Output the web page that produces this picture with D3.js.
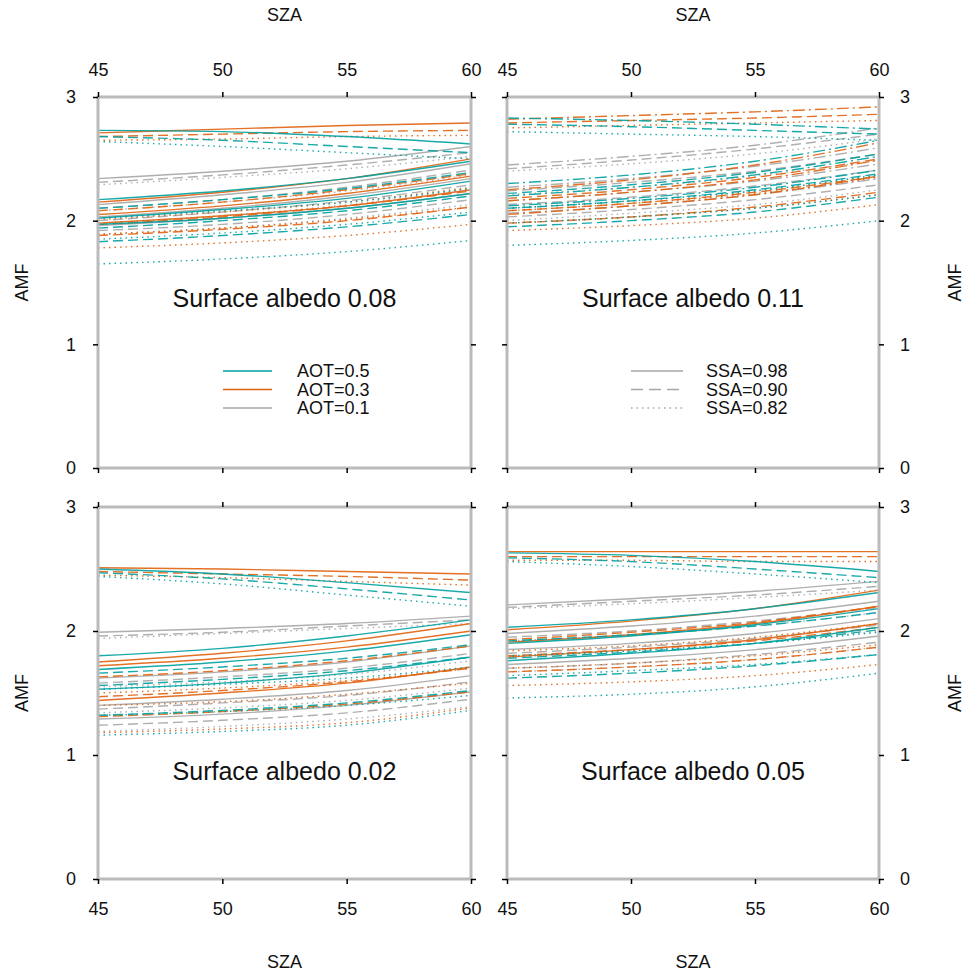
<!DOCTYPE html>
<html lang="en">
<head>
<meta charset="UTF-8">
<title>AMF vs SZA</title>
<script src="https://d3js.org/d3.v7.min.js"></script>
<style>
  body {margin: 0; background: #fff}
  text {font-family: 'Liberation Sans', Arial, sans-serif; fill: #111}
  .tick text {font-size: 18px}
  .title {font-size: 18px}
  .panel-label {font-size: 25px}
  .legend text {font-size: 18px}
</style>
</head>
<body>
<script>
// x positions sampled for each curve
const szaValues = [45, 50, 55, 60];
const szaTicks  = [45, 50, 55, 60];
const amfTicks  = [0, 1, 2, 3];
const aotLevels = ["AOT=0.5", "AOT=0.3", "AOT=0.1"];
const ssaLevels = ["SSA=0.98", "SSA=0.90", "SSA=0.82"];
const albedoLabels = ["Surface albedo 0.08", "Surface albedo 0.11", "Surface albedo 0.02", "Surface albedo 0.05"];

// each row: [aot index, ssa index, AMF at SZA 45, 50, 55, 60]
const amfAlb008 = [
  [0,0,2.73,2.72,2.68,2.62],[0,1,2.68,2.65,2.60,2.55],[0,2,2.64,2.60,2.55,2.50],
  [1,0,2.71,2.74,2.77,2.79],[1,1,2.68,2.70,2.72,2.73],[1,2,2.65,2.66,2.68,2.69],
  [2,0,2.34,2.40,2.48,2.60],[2,1,2.31,2.37,2.45,2.55],[2,2,2.29,2.35,2.42,2.52],
  [0,0,2.17,2.24,2.34,2.48],[0,1,2.10,2.17,2.26,2.39],[0,2,2.02,2.08,2.15,2.26],
  [1,0,2.15,2.23,2.34,2.50],[1,1,2.08,2.15,2.25,2.38],[1,2,2.01,2.07,2.15,2.27],
  [2,0,2.13,2.21,2.31,2.46],[2,1,2.10,2.17,2.27,2.41],[2,2,2.08,2.15,2.24,2.37],
  [0,0,2.02,2.09,2.18,2.32],[0,1,1.94,2.00,2.08,2.20],[0,2,1.85,1.90,1.97,2.07],
  [1,0,2.05,2.12,2.22,2.36],[1,1,1.97,2.03,2.12,2.24],[1,2,1.89,1.94,2.01,2.11],
  [2,0,2.03,2.10,2.20,2.34],[2,1,2.00,2.07,2.16,2.29],[2,2,1.98,2.04,2.13,2.26],
  [0,0,1.97,2.02,2.10,2.22],[0,1,1.83,1.88,1.95,2.05],[0,2,1.65,1.69,1.75,1.84],
  [1,0,1.98,2.04,2.12,2.25],[1,1,1.88,1.93,2.00,2.11],[1,2,1.78,1.82,1.88,1.97],
  [2,0,1.96,2.02,2.10,2.22],[2,1,1.92,1.97,2.05,2.17],[2,2,1.89,1.94,2.02,2.13]
];
const amfAlb011 = [
  [0,0,2.83,2.81,2.78,2.74],[0,1,2.78,2.76,2.73,2.70],[0,2,2.72,2.70,2.68,2.65],
  [1,0,2.82,2.85,2.88,2.92],[1,1,2.79,2.81,2.83,2.86],[1,2,2.75,2.77,2.79,2.81],
  [2,0,2.45,2.52,2.61,2.75],[2,1,2.42,2.49,2.58,2.70],[2,2,2.40,2.46,2.54,2.66],
  [0,0,2.30,2.37,2.48,2.65],[0,1,2.22,2.29,2.39,2.54],[0,2,2.10,2.16,2.24,2.37],
  [1,0,2.25,2.33,2.45,2.63],[1,1,2.18,2.25,2.35,2.50],[1,2,2.08,2.14,2.22,2.35],
  [2,0,2.27,2.34,2.44,2.59],[2,1,2.24,2.31,2.40,2.54],[2,2,2.21,2.27,2.36,2.49],
  [0,0,2.20,2.27,2.37,2.52],[0,1,2.10,2.16,2.25,2.38],[0,2,1.98,2.03,2.10,2.21],
  [1,0,2.16,2.23,2.33,2.49],[1,1,2.08,2.14,2.23,2.36],[1,2,1.98,2.03,2.10,2.21],
  [2,0,2.16,2.23,2.32,2.46],[2,1,2.13,2.19,2.28,2.41],[2,2,2.10,2.16,2.24,2.37],
  [0,0,2.12,2.18,2.27,2.41],[0,1,1.95,2.00,2.07,2.19],[0,2,1.80,1.84,1.90,2.00],
  [1,0,2.05,2.12,2.21,2.36],[1,1,1.98,2.03,2.11,2.23],[1,2,1.92,1.96,2.02,2.13],
  [2,0,2.06,2.12,2.21,2.34],[2,1,2.03,2.09,2.17,2.29],[2,2,2.00,2.06,2.13,2.25]
];
const amfAlb002 = [
  [0,0,2.50,2.46,2.39,2.31],[0,1,2.47,2.42,2.34,2.25],[0,2,2.44,2.38,2.29,2.20],
  [1,0,2.51,2.50,2.48,2.46],[1,1,2.48,2.46,2.44,2.41],[1,2,2.45,2.43,2.40,2.37],
  [2,0,1.99,2.02,2.06,2.12],[2,1,1.96,1.99,2.04,2.09],[2,2,1.94,1.98,2.02,2.06],
  [0,0,1.80,1.86,1.96,2.09],[0,1,1.66,1.71,1.78,1.89],[0,2,1.53,1.57,1.62,1.71],
  [1,0,1.75,1.82,1.92,2.06],[1,1,1.63,1.68,1.76,1.88],[1,2,1.50,1.54,1.60,1.70],
  [2,0,1.62,1.67,1.75,1.88],[2,1,1.58,1.63,1.70,1.82],[2,2,1.55,1.59,1.65,1.76],
  [0,0,1.69,1.75,1.84,1.97],[0,1,1.56,1.61,1.68,1.79],[0,2,1.32,1.35,1.40,1.48],
  [1,0,1.72,1.78,1.87,2.00],[1,1,1.47,1.52,1.59,1.70],[1,2,1.40,1.43,1.49,1.58],
  [2,0,1.40,1.45,1.52,1.64],[2,1,1.37,1.42,1.48,1.59],[2,2,1.34,1.38,1.44,1.54],
  [0,0,1.53,1.58,1.66,1.79],[0,1,1.32,1.36,1.42,1.52],[0,2,1.16,1.19,1.24,1.36],
  [1,0,1.44,1.50,1.58,1.71],[1,1,1.31,1.35,1.41,1.51],[1,2,1.18,1.21,1.26,1.38],
  [2,0,1.29,1.33,1.40,1.51],[2,1,1.24,1.28,1.34,1.45],[2,2,1.19,1.23,1.29,1.39]
];
const amfAlb005 = [
  [0,0,2.63,2.61,2.56,2.48],[0,1,2.59,2.56,2.50,2.43],[0,2,2.56,2.52,2.46,2.39],
  [1,0,2.64,2.64,2.64,2.64],[1,1,2.60,2.60,2.60,2.60],[1,2,2.57,2.57,2.56,2.56],
  [2,0,2.21,2.26,2.32,2.40],[2,1,2.19,2.24,2.29,2.36],[2,2,2.18,2.22,2.27,2.33],
  [0,0,2.03,2.09,2.18,2.31],[0,1,1.92,1.97,2.04,2.15],[0,2,1.80,1.84,1.90,1.99],
  [1,0,2.01,2.08,2.18,2.33],[1,1,1.93,1.99,2.07,2.20],[1,2,1.84,1.88,1.95,2.06],
  [2,0,1.98,2.04,2.12,2.24],[2,1,1.95,2.00,2.08,2.19],[2,2,1.92,1.97,2.04,2.15],
  [0,0,1.90,1.96,2.05,2.18],[0,1,1.78,1.83,1.90,2.01],[0,2,1.64,1.68,1.73,1.81],
  [1,0,1.91,1.97,2.06,2.20],[1,1,1.80,1.85,1.92,2.03],[1,2,1.70,1.74,1.80,1.89],
  [2,0,1.85,1.90,1.98,2.10],[2,1,1.82,1.87,1.94,2.05],[2,2,1.79,1.84,1.90,2.00],
  [0,0,1.76,1.82,1.90,2.03],[0,1,1.62,1.66,1.72,1.81],[0,2,1.46,1.49,1.55,1.66],
  [1,0,1.79,1.85,1.93,2.06],[1,1,1.67,1.71,1.77,1.87],[1,2,1.56,1.59,1.64,1.73],
  [2,0,1.73,1.78,1.85,1.96],[2,1,1.70,1.74,1.81,1.91],[2,2,1.67,1.71,1.77,1.87]
];

const width = 968, height = 976;
const aotColor = ["#00a0a0", "#e0620e", "#a6a6a6"];
const ssaDash  = ["none", "10,5", "1.5,4"];

const panels = [
  {data: amfAlb008, label: albedoLabels[0], x0: 98,  x1: 471, y0: 97,  y1: 468, top: true,  left: true},
  {data: amfAlb011, label: albedoLabels[1], x0: 507, x1: 879, y0: 97,  y1: 468, top: true,  left: false, dashDot: true},
  {data: amfAlb002, label: albedoLabels[2], x0: 98,  x1: 471, y0: 507, y1: 879, top: false, left: true},
  {data: amfAlb005, label: albedoLabels[3], x0: 507, x1: 879, y0: 507, y1: 879, top: false, left: false}
];

const svg = d3.select("body").append("svg")
    .attr("width", width)
    .attr("height", height);

panels.forEach(p => {
  const x = d3.scaleLinear().domain([45, 60]).range([p.x0, p.x1]);
  const y = d3.scaleLinear().domain([0, 3]).range([p.y1, p.y0]);
  const g = svg.append("g");

  const line = d3.line()
      .x((d, i) => x(szaValues[i]))
      .y(d => y(d))
      .curve(d3.curveMonotoneX);

  // gray first, teal on top
  const rows = p.data.slice().sort((a, b) => b[0] - a[0]);
  g.append("g").selectAll("path")
    .data(rows).enter()
    .append("path")
      .attr("d", d => line(d.slice(2)))
      .attr("fill", "none")
      .attr("stroke", d => aotColor[d[0]])
      .attr("stroke-width", 1.4)
      .attr("stroke-opacity", 0.9)
      .attr("stroke-dasharray", d => (p.dashDot && d[1] == 0) ? "12,4,2,4" : ssaDash[d[1]]);

  g.append("rect")
      .attr("x", p.x0).attr("y", p.y0)
      .attr("width", p.x1 - p.x0).attr("height", p.y1 - p.y0)
      .attr("fill", "none")
      .attr("stroke", "#bbbbbb")
      .attr("stroke-width", 3);

  const mk = (axis, withLabels, pad) => axis
      .tickValues(axis.scale() === x ? szaTicks : amfTicks)
      .tickSizeInner(5).tickSizeOuter(0).tickPadding(pad)
      .tickFormat(withLabels ? d3.format("d") : "");

  const axes = [
    [d3.axisTop(x),    `translate(0,${p.y0})`, p.top, 16],
    [d3.axisBottom(x), `translate(0,${p.y1})`, !p.top, 18],
    [d3.axisLeft(y),   `translate(${p.x0},0)`, p.left, 17],
    [d3.axisRight(y),  `translate(${p.x1},0)`, !p.left, 16]
  ];
  axes.forEach(([ax, tr, lab, pad]) => {
    const a = g.append("g").attr("transform", tr).call(mk(ax, lab, pad));
    a.select(".domain").remove();
    a.selectAll("line").attr("stroke", "#000").attr("stroke-width", 1.5);
    a.selectAll("text").attr("font-family", null).attr("font-size", null);
  });

  const cx = (p.x0 + p.x1) / 2, cy = (p.y0 + p.y1) / 2;
  g.append("text").attr("class", "title")
      .attr("x", cx).attr("y", p.top ? 21 : 968)
      .attr("text-anchor", "middle").text("SZA");
  g.append("text").attr("class", "title")
      .attr("transform", `translate(${p.left ? 28 : 961},${cy}) rotate(-90)`)
      .attr("text-anchor", "middle").text("AMF");

  g.append("text").attr("class", "panel-label")
      .attr("x", cx).attr("y", p.y0 + (p.top ? 210 : 273))
      .attr("text-anchor", "middle").text(p.label);
});

// legends
const legA = svg.append("g").attr("class", "legend");
aotLevels.forEach((t, i) => {
  const yy = 371 + i * 18.5;
  legA.append("line").attr("x1", 223).attr("x2", 272).attr("y1", yy).attr("y2", yy)
      .attr("stroke", aotColor[i]).attr("stroke-width", 1.4);
  legA.append("text").attr("x", 297).attr("y", yy + 6).text(t);
});
const legS = svg.append("g").attr("class", "legend");
ssaLevels.forEach((t, i) => {
  const yy = 371 + i * 18.5;
  legS.append("line").attr("x1", 631).attr("x2", 683).attr("y1", yy).attr("y2", yy)
      .attr("stroke", "#a6a6a6").attr("stroke-width", 1.4)
      .attr("stroke-dasharray", i == 1 ? "12,6" : ssaDash[i]);
  legS.append("text").attr("x", 706).attr("y", yy + 6).text(t);
});
</script>
</body>
</html>
